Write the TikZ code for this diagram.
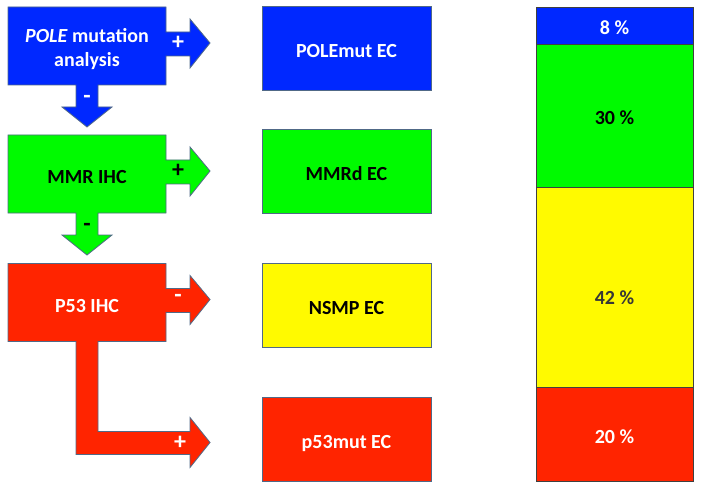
\documentclass[tikz,border=0pt]{standalone}
\usepackage{fontspec}
\setmainfont{Carlito}
\usetikzlibrary{positioning,backgrounds}
\definecolor{cblue}{RGB}{0,40,255}
\definecolor{cgreen}{RGB}{0,250,0}
\definecolor{cyellow}{RGB}{255,250,0}
\definecolor{cred}{RGB}{255,36,0}
\definecolor{edge}{RGB}{80,105,135}
\definecolor{darktext}{RGB}{55,55,55}
\begin{document}
\begin{tikzpicture}[x=1pt,y=-1pt,
        test/.style={rectangle,inner sep=0pt,outer sep=0pt,minimum width=158pt,minimum height=78pt,text height=19pt,text depth=0pt,font=\bfseries\fontsize{20}{24}\selectfont},
        flow/.style={draw=edge,line width=0.8pt,line join=miter},
        sign/.style={inner sep=0pt,font=\bfseries\fontsize{24}{28}\selectfont},
        result/.style={rectangle,draw=edge,line width=0.8pt,inner sep=0pt,minimum width=169pt,minimum height=84pt,text height=19pt,text depth=0pt,font=\bfseries\fontsize{20}{24}\selectfont},
        bar/.style={rectangle,draw=black!75,line width=0.8pt,inner sep=0pt,outer sep=0pt,minimum width=157pt,text height=19pt,text depth=0pt,font=\bfseries\fontsize{20}{24}\selectfont}
      ]
      \useasboundingbox (0,0) rectangle (701,489);
      % tests on the left
      \node[test,text=white,text height=25pt,text depth=31pt] (pole) at (87,46) {\begin{tabular}[t]{@{}c@{}}\textit{POLE} mutation\\analysis\end{tabular}};
      \node[test] (mmr) at (87,174) {MMR IHC};
      \node[test,text=white] (p53) at (87,302.5) {P53 IHC};
      \begin{scope}[on background layer]
        \path[flow,fill=cblue] (pole.north west) -- (pole.north east) -- ++(0,25) -- ++(24,0) -- ++(0,-13) -- ++(20,24) -- ++(-20,25) -- ++(0,-12) -- ++(-24,0) -- (pole.south east) -- ++(-68,0) -- ++(0,22) -- ++(14,0) -- ++(-25,20) -- ++(-25,-20) -- ++(14,0) -- ++(0,-22) -- (pole.south west) -- cycle;
        \path[flow,fill=cgreen] (mmr.north west) -- (mmr.north east) -- ++(0,25) -- ++(24,0) -- ++(0,-13) -- ++(20,24) -- ++(-20,25) -- ++(0,-12) -- ++(-24,0) -- (mmr.south east) -- ++(-68,0) -- ++(0,22) -- ++(14,0) -- ++(-25,20) -- ++(-25,-20) -- ++(14,0) -- ++(0,-22) -- (mmr.south west) -- cycle;
        \path[flow,fill=cred] (p53.north west) -- (p53.north east) -- ++(0,25) -- ++(24,0) -- ++(0,-13) -- ++(20,24) -- ++(-20,25) -- ++(0,-12) -- ++(-24,0) -- (p53.south east) -- ++(-68,0) -- ++(0,90) -- ++(92,0) -- ++(0,-14) -- ++(20,25) -- ++(-20,25) -- ++(0,-13) -- ++(-114,0) -- ++(0,-113) -- (p53.south west) -- cycle;
      \end{scope}
      \node[sign,text=white] (poleplus) at (178,43) {+};
      \node[sign,text=white] (poleminus) at (87,99) {-};
      \node[sign] (mmrplus) at (178,171) {+};
      \node[sign] (mmrminus) at (87,227) {-};
      \node[sign,text=white] (p53minus) at (178,298) {-};
      \node[sign,text=white] (p53plus) at (180,443) {+};
      % molecular classes
      \node[result,fill=cblue,text=white] (polemut) at (346.5,48.5) {POLEmut EC};
      \node[result,fill=cgreen] (mmrd) at (346.5,171) {MMRd EC};
      \node[result,fill=cyellow] (nsmp) at (346.5,305) {NSMP EC};
      \node[result,fill=cred,text=white] (p53mut) at (346.5,439) {p53mut EC};
      % proportions
      \node[bar,fill=cblue,text=white,minimum height=37pt,anchor=north] (pct8) at (614.5,7) {8 \%};
      \node[bar,fill=cgreen,minimum height=143pt,below=0pt of pct8] (pct30) {30 \%};
      \node[bar,fill=cyellow,text=darktext,text height=35pt,minimum height=200pt,below=0pt of pct30] (pct42) {42 \%};
      \node[bar,fill=cred,text=white,minimum height=94pt,below=0pt of pct42] (pct20) {20 \%};
    \end{tikzpicture}
\end{document}
